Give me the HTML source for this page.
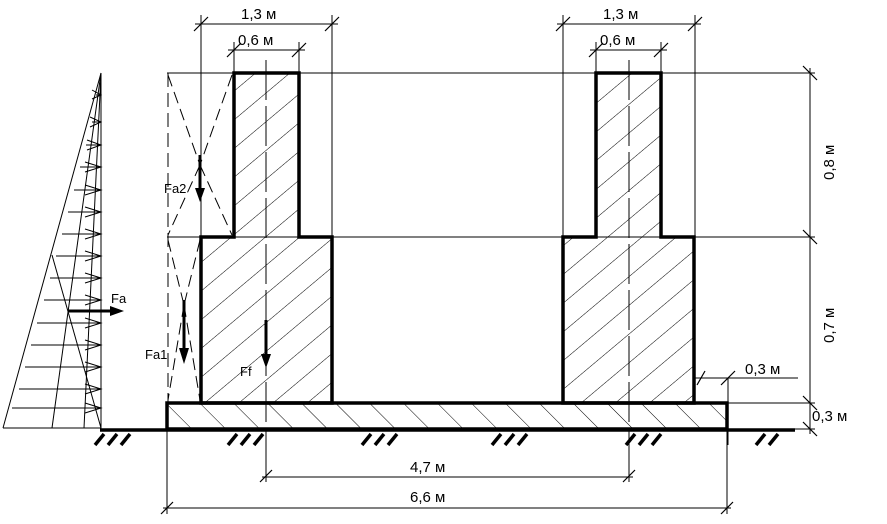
<!DOCTYPE html>
<html><head><meta charset="utf-8"><style>
html,body{margin:0;padding:0;background:#fff;width:887px;height:524px;overflow:hidden}
svg{display:block}
text{font-family:"Liberation Sans",sans-serif;fill:#000}
</style></head><body>
<svg width="887" height="524" viewBox="0 0 887 524" xmlns="http://www.w3.org/2000/svg">
<defs>
<pattern id="h1" patternUnits="userSpaceOnUse" width="22" height="22" patternTransform="rotate(50)">
<line x1="0" y1="0" x2="0" y2="22" stroke="#000" stroke-width="1"/>
</pattern>
<pattern id="h2" patternUnits="userSpaceOnUse" width="24" height="24" patternTransform="rotate(-45)">
<line x1="0" y1="0" x2="0" y2="24" stroke="#000" stroke-width="1"/>
</pattern>
</defs>
<g stroke="#000" fill="none" stroke-width="1">
<line x1="101" y1="73" x2="101" y2="429"/>
<line x1="101" y1="73" x2="3" y2="428"/>
<line x1="3" y1="428" x2="101" y2="428"/>
<line x1="101" y1="73" x2="52" y2="428"/>
<line x1="101" y1="73" x2="84" y2="428"/>
<line x1="52" y1="255" x2="101" y2="428"/>
<g>
<line x1="96" y1="95" x2="101" y2="95"/><line x1="92" y1="122" x2="101" y2="122"/>
<line x1="86" y1="145" x2="101" y2="145"/><line x1="80" y1="167" x2="101" y2="167"/>
<line x1="74" y1="190" x2="101" y2="190"/><line x1="68" y1="212" x2="101" y2="212"/>
<line x1="62" y1="234" x2="101" y2="234"/><line x1="56" y1="256" x2="101" y2="256"/>
<line x1="50" y1="278" x2="101" y2="278"/><line x1="44" y1="300" x2="101" y2="300"/>
<line x1="37" y1="323" x2="101" y2="323"/><line x1="31" y1="345" x2="101" y2="345"/>
<line x1="25" y1="367" x2="101" y2="367"/><line x1="19" y1="389" x2="101" y2="389"/>
<line x1="12" y1="408" x2="101" y2="408"/>
</g>
<g>
<path d="M92 90 L101 95 L92 99"/><path d="M90 117 L101 122 L90 127"/>
<path d="M87 140 L101 145 L87 150"/><path d="M85 162 L101 167 L85 172"/>
<path d="M85 185 L101 190 L85 195"/><path d="M85 207 L101 212 L85 217"/>
<path d="M85 229 L101 234 L85 239"/><path d="M85 251 L101 256 L85 261"/>
<path d="M85 273 L101 278 L85 283"/><path d="M85 295 L101 300 L85 305"/>
<path d="M85 318 L101 323 L85 328"/><path d="M85 340 L101 345 L85 350"/>
<path d="M85 362 L101 367 L85 372"/><path d="M85 384 L101 389 L85 394"/>
<path d="M85 403 L101 408 L85 413"/>
</g>
<line x1="168" y1="73" x2="168" y2="403" stroke-dasharray="14,6"/>
<line x1="167" y1="73" x2="234" y2="73" stroke-dasharray="14,6"/>
<line x1="168" y1="237" x2="201" y2="237"/>
<line x1="168" y1="75" x2="200" y2="165" stroke-dasharray="12,6"/>
<line x1="232" y1="75" x2="200" y2="165" stroke-dasharray="12,6"/>
<line x1="200" y1="165" x2="168" y2="235" stroke-dasharray="12,6"/>
<line x1="200" y1="165" x2="232" y2="235" stroke-dasharray="12,6"/>
<line x1="168" y1="240" x2="184" y2="305" stroke-dasharray="12,6"/>
<line x1="200" y1="240" x2="184" y2="305" stroke-dasharray="12,6"/>
<line x1="184" y1="305" x2="168" y2="400" stroke-dasharray="12,6"/>
<line x1="184" y1="305" x2="200" y2="400" stroke-dasharray="12,6"/>
<path d="M234 73 H299 V237 H332 V403 H201 V237 H234 Z" fill="url(#h1)" stroke="none"/>
<path d="M596 73 H661 V237 H694 V403 H563 V237 H596 Z" fill="url(#h1)" stroke="none"/>
<rect x="167" y="403" width="560" height="26" fill="url(#h2)" stroke="none"/>
<line x1="167" y1="73" x2="815" y2="73"/>
<line x1="167" y1="237" x2="815" y2="237"/>
<line x1="727" y1="403" x2="815" y2="403"/>
<line x1="201" y1="15" x2="201" y2="237"/><line x1="332" y1="15" x2="332" y2="237"/>
<line x1="234" y1="42" x2="234" y2="73"/><line x1="299" y1="42" x2="299" y2="73"/>
<line x1="563" y1="15" x2="563" y2="237"/><line x1="695" y1="15" x2="695" y2="237"/>
<line x1="596" y1="42" x2="596" y2="73"/><line x1="661" y1="42" x2="661" y2="73"/>
<line x1="195" y1="24" x2="338" y2="24"/><line x1="557" y1="24" x2="701" y2="24"/>
<line x1="228" y1="50" x2="305" y2="50"/><line x1="590" y1="50" x2="667" y2="50"/>
<g stroke-width="1.2">
<line x1="194" y1="31" x2="208" y2="17"/><line x1="325" y1="31" x2="339" y2="17"/>
<line x1="227" y1="57" x2="241" y2="43"/><line x1="292" y1="57" x2="306" y2="43"/>
<line x1="556" y1="31" x2="570" y2="17"/><line x1="688" y1="31" x2="702" y2="17"/>
<line x1="589" y1="57" x2="603" y2="43"/><line x1="654" y1="57" x2="668" y2="43"/>
<line x1="803" y1="66" x2="817" y2="80"/><line x1="803" y1="230" x2="817" y2="244"/>
<line x1="803" y1="396" x2="817" y2="410"/><line x1="803" y1="422" x2="817" y2="436"/>
<line x1="721" y1="385" x2="735" y2="371"/><line x1="697" y1="385" x2="705" y2="371"/>
<line x1="260" y1="482" x2="272" y2="470"/><line x1="623" y1="482" x2="635" y2="470"/>
<line x1="161" y1="514" x2="173" y2="502"/><line x1="721" y1="514" x2="733" y2="502"/>
</g>
<line x1="810" y1="68" x2="810" y2="434"/>
<line x1="694" y1="378" x2="798" y2="378"/>
<line x1="728" y1="378" x2="728" y2="445"/>
<line x1="727" y1="429" x2="815" y2="429"/>
<line x1="266" y1="430" x2="266" y2="482"/><line x1="629" y1="430" x2="629" y2="482"/>
<line x1="167" y1="430" x2="167" y2="514"/><line x1="727" y1="430" x2="727" y2="514"/>
<line x1="262" y1="477" x2="633" y2="477"/>
<line x1="163" y1="508" x2="731" y2="508"/>
<line x1="266" y1="60" x2="266" y2="430" stroke-dasharray="40,6"/>
<line x1="629" y1="60" x2="629" y2="430" stroke-dasharray="40,6"/>
<g stroke-width="3.5">
<path d="M234 73 H299 V237 H332 V403 H201 V237 H234 Z"/>
<path d="M596 73 H661 V237 H694 V403 H563 V237 H596 Z"/>
<rect x="167" y="403" width="560" height="26"/>
<line x1="100" y1="430" x2="795" y2="430"/>
</g>
<g stroke-width="3.5">
<line x1="95" y1="445" x2="104" y2="434"/><line x1="108" y1="445" x2="117" y2="434"/><line x1="121" y1="445" x2="130" y2="434"/>
<line x1="228" y1="445" x2="237" y2="434"/><line x1="241" y1="445" x2="250" y2="434"/><line x1="254" y1="445" x2="263" y2="434"/>
<line x1="362" y1="445" x2="371" y2="434"/><line x1="375" y1="445" x2="384" y2="434"/><line x1="388" y1="445" x2="397" y2="434"/>
<line x1="492" y1="445" x2="501" y2="434"/><line x1="505" y1="445" x2="514" y2="434"/><line x1="518" y1="445" x2="527" y2="434"/>
<line x1="626" y1="445" x2="635" y2="434"/><line x1="639" y1="445" x2="648" y2="434"/><line x1="652" y1="445" x2="661" y2="434"/>
<line x1="756" y1="445" x2="765" y2="434"/><line x1="769" y1="445" x2="778" y2="434"/>
</g>
<g stroke-width="3">
<line x1="68" y1="311" x2="112" y2="311"/>
<line x1="200" y1="155" x2="200" y2="190"/>
<line x1="184" y1="300" x2="184" y2="350"/>
<line x1="266" y1="320" x2="266" y2="356"/>
</g>
</g>
<g fill="#000">
<path d="M110 306 L124 311 L110 316 Z"/>
<path d="M195 188 L200 202 L205 188 Z"/>
<path d="M179 348 L184 364 L189 348 Z"/>
<path d="M261 354 L266 368 L271 354 Z"/>
</g>
<g font-size="15">
<text x="241" y="19">1,3  м</text>
<text x="603" y="19">1,3  м</text>
<text x="238" y="45">0,6  м</text>
<text x="600" y="45">0,6  м</text>
<text x="410" y="472">4,7  м</text>
<text x="410" y="502">6,6  м</text>
<text x="745" y="374">0,3  м</text>
<text x="812" y="421">0,3  м</text>
<text transform="translate(834,180) rotate(-90)">0,8 м</text>
<text transform="translate(834,343) rotate(-90)">0,7 м</text>
<text x="111" y="303" font-size="13">Fa</text>
<text x="164" y="193" font-size="13">Fa2</text>
<text x="145" y="359" font-size="13">Fa1</text>
<text x="240" y="376" font-size="13">Ff</text>
</g>
</svg>
</body></html>
